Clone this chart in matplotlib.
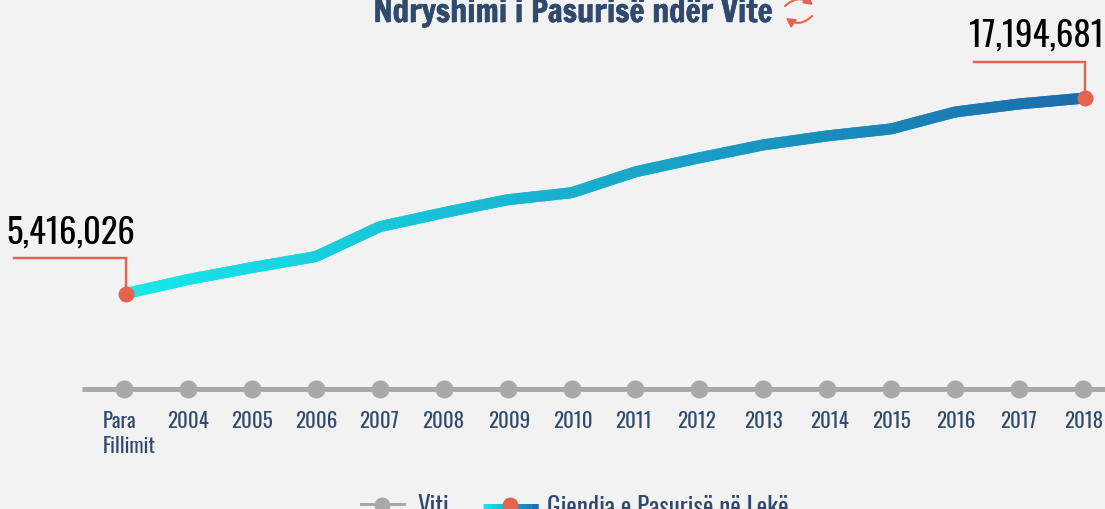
import numpy as np
import matplotlib
matplotlib.use("Agg")
import matplotlib.pyplot as plt
import matplotlib.patheffects as pe
from matplotlib.collections import LineCollection
from matplotlib.colors import LinearSegmentedColormap
from matplotlib.transforms import ScaledTranslation

labels = ["Para\nFillimit", "2004", "2005", "2006", "2007", "2008", "2009", "2010",
          "2011", "2012", "2013", "2014", "2015", "2016", "2017", "2018"]
wealth = [5416026, 6257000, 6978500, 7640000, 9442000, 10284000, 11065000, 11486000,
          12748000, 13589000, 14370000, 14911000, 15332000, 16353000, 16834000, 17194681]
title = "Ndryshimi i Pasurisë ndër Vite"
legend_axis = "Viti"
legend_series = "Gjendja e Pasurisë në Lekë"

FONT = ["Oswald", "Antonio", "DejaVu Sans"]
plt.rcParams["font.family"] = FONT
BG, NAVY, RED, GRAY = "#f2f2f2", "#2f4a6d", "#e5644f", "#a9a9a9"
cmap = LinearSegmentedColormap.from_list("w", ["#17e8ec", "#1a6cab"])

W, H = 1105, 510
fig = plt.figure(figsize=(W / 100, H / 100), dpi=100, facecolor=BG)
pt = 0.72

ax = fig.add_axes([82 / W, 1 - 390 / H, 1 - 82 / W, 390 / H], facecolor=BG)
step = 63.93
ax.set_xlim((82 - 124) / step, (W - 124) / step)
per_px = (wealth[-1] - wealth[0]) / 195.5
ax.set_ylim(wealth[0] - 96 * per_px, wealth[0] + 294 * per_px)
for s in ("top", "left", "right"):
    ax.spines[s].set_visible(False)
ax.spines["bottom"].set_color(GRAY)
ax.spines["bottom"].set_linewidth(5 * pt)
ax.spines["bottom"].set_capstyle("butt")
ax.set_yticks([])
x = np.arange(len(labels))
ax.set_xticks(x, labels)
ax.tick_params(axis="x", length=0, pad=15, labelsize=15, labelcolor=NAVY)
label_dx = [-21, 0, 0, 0, -1, -1, 2, 1, -2, -3, 0, 2, 0, 1, 0, 1]
for lab, dx in zip(ax.get_xticklabels(), label_dx):
    lab.set_transform(lab.get_transform() + ScaledTranslation(dx / 100, 0, fig.dpi_scale_trans))
tl0 = ax.get_xticklabels()[0]
tl0.set_ha("left")
tl0.set_linespacing(1.3)
ax.plot(x, [ax.get_ylim()[0]] * len(x), "o", ms=18 * pt, color=GRAY, mew=0, clip_on=False, zorder=4)

shift = ax.transData + ScaledTranslation(0, -0.5 / 100, fig.dpi_scale_trans)

def gradient(a, xs, ys, width, transform, z=3):
    n = len(xs) - 1
    t = np.linspace(0, 1, n)
    segs = [[(xs[i], ys[i]), (xs[min(i + 2, n)], ys[min(i + 2, n)])] for i in range(n)]
    lc = LineCollection(segs, colors=cmap(t), linewidths=width * pt,
                        capstyle="butt", transform=transform, zorder=z)
    a.add_collection(lc)

# only the two end points sit 2 px right of their axis positions
xe = x.astype(float)
xe[[0, -1]] += 2 / step
fine_x = np.linspace(xe[0], xe[-1], 1000)
fine_y = np.interp(fine_x, xe, wealth)
gradient(ax, fine_x, fine_y, 11, shift)
ax.plot(xe[[0, -1]], [wealth[0], wealth[-1]], "o", ms=16 * pt, color=RED, mew=0,
        transform=shift, zorder=5, clip_on=False)

ov = fig.add_axes([0, 0, 1, 1], facecolor="none")
ov.set_xlim(0, W)
ov.set_ylim(H, 0)
ov.axis("off")
ov.plot([14, 126, 126], [258.5, 258.5, 290], color=RED, lw=2.4 * pt, solid_joinstyle="miter")
ov.plot([973.5, 1085, 1085], [62.5, 62.5, 94], color=RED, lw=2.4 * pt, solid_joinstyle="miter")
ov.text(135.5, 243.5, f"{wealth[0]:,}", ha="right", va="baseline", fontsize=25, color="black")
ov.text(1104, 46.5, f"{wealth[-1]:,}", ha="right", va="baseline", fontsize=25, color="black")
ov.text(772, 23, title, ha="right", va="baseline", fontsize=22.8, color=NAVY,
        family=["Francois One", "Fjalla One", "Oswald", "DejaVu Sans"],
        path_effects=[pe.withStroke(linewidth=0.4, foreground=NAVY)])

for (a, b, rad) in [((785, 7), (813, 6), -0.42), ((812, 17), (786, 19), -0.42)]:
    ov.annotate("", xy=b, xytext=a,
                arrowprops=dict(arrowstyle="-|>,head_width=0.28,head_length=0.5", color=RED, lw=1.5,
                                connectionstyle=f"arc3,rad={rad}", shrinkA=0, shrinkB=0))

ov.plot([361, 404], [505, 505], color=GRAY, lw=3 * pt)
ov.plot([382], [505.5], "o", ms=16 * pt, color=GRAY, mew=0)
ov.text(417, 515.5, legend_axis, ha="left", va="baseline", fontsize=18, color=NAVY)
gradient(ov, np.linspace(483, 538, 60), np.full(60, 506.5), 5, ov.transData)
ov.plot([510], [505.5], "o", ms=16 * pt, color=RED, mew=0, zorder=5)
ov.text(547, 515.5, legend_series, ha="left", va="baseline", fontsize=18, color=NAVY)

fig.savefig("out.png", dpi=100, facecolor=BG)
